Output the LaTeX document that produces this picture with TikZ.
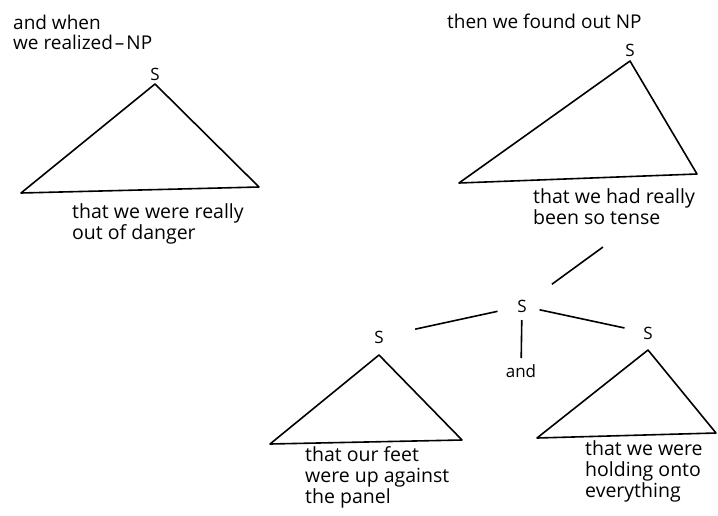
\documentclass[tikz,border=0pt]{standalone}
\usepackage{fontspec}
\setmainfont{Open Sans}
\begin{document}
\begin{tikzpicture}[x=1pt, y=-1pt,
    every node/.style={inner sep=0pt},
    cat/.style={font=\fontsize{17}{19}\selectfont},
    toptxt/.style={font=\fontsize{19}{19.5}\selectfont, align=left, anchor=north west},
    txt/.style={font=\fontsize{19.5}{21}\selectfont, align=left, anchor=north west},
    tri/.style={line width=1.6pt, line join=round},
    branch/.style={line width=1.6pt}]
    \useasboundingbox (0,0) rectangle (718,515);
    % Left clause
    \node[toptxt] (when) at (13,15) {and when\\we realized\kern2pt--\kern2pt NP};
    \node[cat] (sleft) at (155,74) {S};
    \draw[tri] (155,84) -- (21,193) -- (259,187) -- cycle;
    \node[txt] (danger) at (72,203) {that we were really\\out of danger};
    % Right clause
    \node[toptxt] (found) at (447,14) {then we found out NP};
    \node[cat] (sright) at (630,50) {S};
    \draw[tri] (630,61) -- (459,183) -- (697,174) -- cycle;
    \node[txt] (tense) at (533,188) {that we had really\\been so tense};
    \coordinate (tensefoot) at (603,247);
    % Conjoined S
    \node[cat] (smid) at (522,306) {S};
    \node[cat] (sa) at (379,337) {S};
    \node[cat] (sb) at (648,333) {S};
    \node[cat] (andw) at (521,371) {and};
    \draw[branch, shorten >=31pt] (tensefoot) -- (smid);
    \draw[branch, shorten <=25pt, shorten >=37pt] (smid.center) -- (sa.center);
    \draw[branch, shorten <=18pt, shorten >=24pt] (smid.center) -- (sb.center);
    \draw[branch, shorten <=14pt, shorten >=13pt] (smid.center) -- (andw.center);
    \draw[tri] (379,355) -- (270,444) -- (462,440) -- cycle;
    \draw[tri] (648,350) -- (537,438) -- (716,433) -- cycle;
    \node[txt] (feet) at (305,446) {that our feet\\were up against\\the panel};
    \node[txt] (holding) at (585,440) {that we were\\holding onto\\everything};
\end{tikzpicture}
\end{document}
